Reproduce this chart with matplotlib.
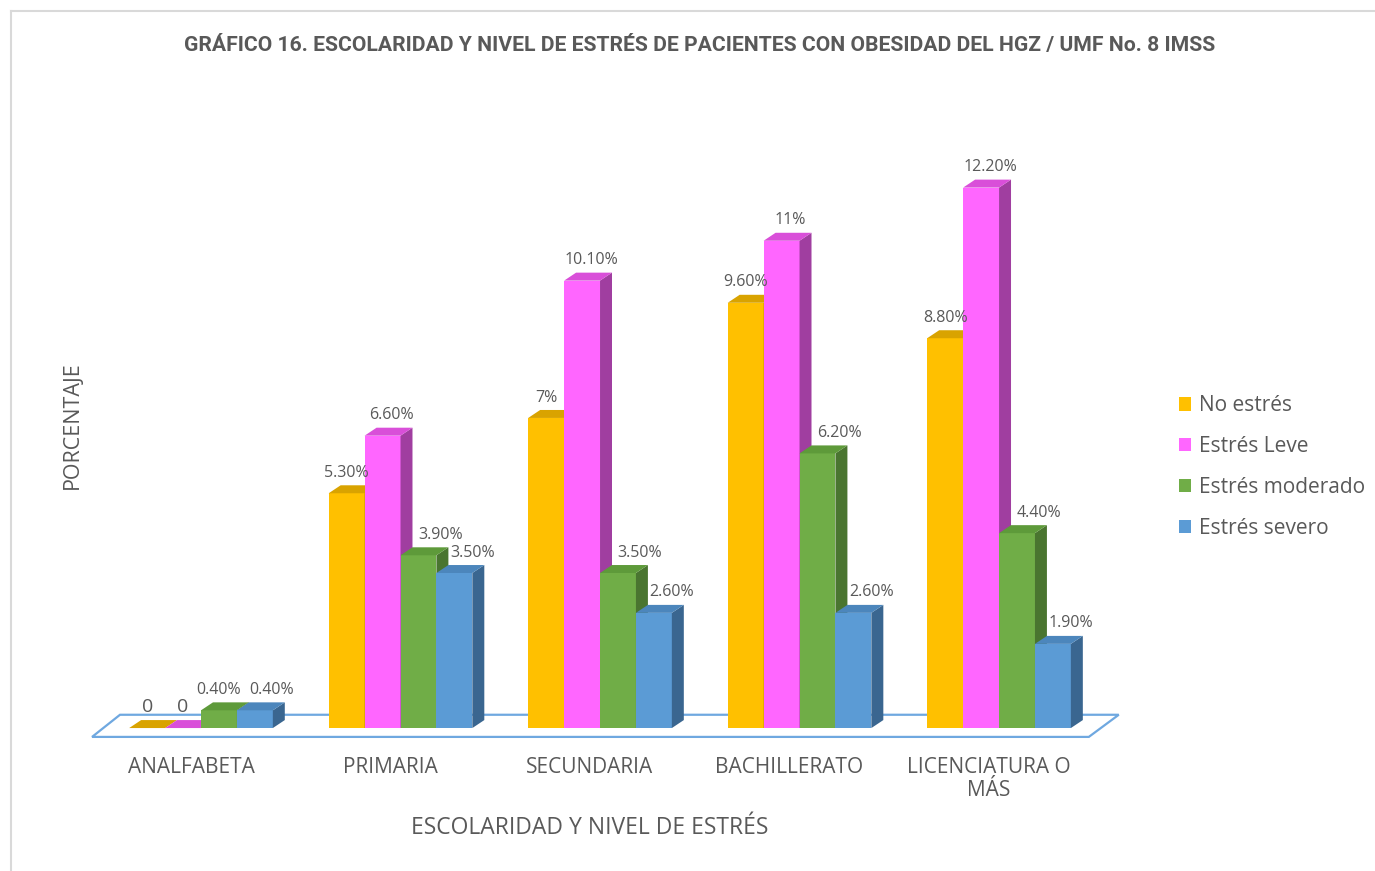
import matplotlib.pyplot as plt
from matplotlib.patches import Polygon, Rectangle
from matplotlib.lines import Line2D

# data
categories = ['ANALFABETA', 'PRIMARIA', 'SECUNDARIA', 'BACHILLERATO', 'LICENCIATURA O\nMÁS']
series_names = ['No estrés', 'Estrés Leve', 'Estrés moderado', 'Estrés severo']
no_estres = [0, 5.3, 7.0, 9.6, 8.8]
estres_leve = [0, 6.6, 10.1, 11.0, 12.2]
estres_moderado = [0.4, 3.9, 3.5, 6.2, 4.4]
estres_severo = [0.4, 3.5, 2.6, 2.6, 1.9]
labels = [
    ['0', '5.30%', '7%', '9.60%', '8.80%'],
    ['0', '6.60%', '10.10%', '11%', '12.20%'],
    ['0.40%', '3.90%', '3.50%', '6.20%', '4.40%'],
    ['0.40%', '3.50%', '2.60%', '2.60%', '1.90%'],
]
series = [no_estres, estres_leve, estres_moderado, estres_severo]

front = ['#FFC000', '#FF66FF', '#70AD47', '#5B9BD5']
side = ['#B98C00', '#A03EA0', '#4A7530', '#3A6690']
top = ['#D9A300', '#D94FD9', '#5E9A3A', '#4C86BC']
# label shift to the right so labels clear the side faces
lab_shift = [0.0, 0.045, 0.11, 0.09]
lab_shift_small = [0.0, 0.0, 0.0, 0.085]

W, H = 1375, 871
fig = plt.figure(figsize=(W / 100, H / 100), dpi=100)
ax = fig.add_axes([81.3 / W, 1 - 750.2 / H, 1057.4 / W, 620.2 / H])
ax.set_xlim(-0.6, 4.7)
ax.set_ylim(-0.5, 13.5)
ax.axis('off')

gray = '#595959'
font = 'Open Sans'
bw = 0.18
dx, dy = 0.06, 0.18  # fake 3d depth

# floor
floor = Polygon([(-0.546, -0.2), (-0.406, 0.3), (4.6, 0.3), (4.45, -0.2)],
                closed=True, facecolor='white', edgecolor='#6FA8E0', lw=1.6, zorder=1)
ax.add_patch(floor)

for s, vals in enumerate(series):
    for i, v in enumerate(vals):
        x0 = i - 2 * bw + s * bw
        x1 = x0 + bw
        z = 3 + s * 0.01
        if v > 0:
            ax.add_patch(Rectangle((x0, 0), bw, v, facecolor=front[s], edgecolor='none', zorder=z))
            ax.add_patch(Polygon([(x1, 0), (x1 + dx, dy), (x1 + dx, v + dy), (x1, v)],
                                 facecolor=side[s], edgecolor='none', zorder=z))
        ax.add_patch(Polygon([(x0, v), (x0 + dx, v + dy), (x1 + dx, v + dy), (x1, v)],
                             facecolor=top[s], edgecolor='none', zorder=z))
        shift = lab_shift_small[s] if v < 1 else lab_shift[s]
        fs = 14 if labels[s][i] == '0' else 11.5
        ax.text(x0 + bw / 2 + shift, v + dy + 0.1, labels[s][i], ha='center', va='bottom',
                fontsize=fs, color=gray, family=font, zorder=6)

for i, c in enumerate(categories):
    ax.text(i - 0.05, -0.65, c, ha='center', va='top', fontsize=15, color=gray,
            family=font, linespacing=1.15)

fig.text(590 / W, 1 - 828 / H, 'ESCOLARIDAD Y NIVEL DE ESTRÉS', ha='center', va='center',
         fontsize=16.5, color=gray, family=font)
fig.text(72 / W, 1 - 425 / H, 'PORCENTAJE', ha='center', va='center', rotation=90,
         fontsize=15.5, color=gray, family=font)
fig.text(700 / W, 1 - 45 / H,
         'GRÁFICO 16. ESCOLARIDAD Y NIVEL DE ESTRÉS DE PACIENTES CON OBESIDAD DEL HGZ / UMF No. 8 IMSS',
         ha='center', va='center', fontsize=15.2, fontweight='bold', color=gray,
         family=['Liberation Sans Narrow', 'Roboto', 'DejaVu Sans'])

# legend
handles = [Rectangle((0, 0), 1, 1, facecolor=c) for c in front]
leg = fig.legend(handles, series_names, loc='center left', bbox_to_anchor=(1160 / W, 1 - 467 / H),
                 frameon=False, handlelength=0.6, handleheight=0.6, labelspacing=0.95,
                 handletextpad=0.35, prop={'family': font, 'size': 15})
for t in leg.get_texts():
    t.set_color(gray)

# thin border at top/left
fig.add_artist(Line2D([11 / W, 11 / W], [0, 1 - 11 / H], color='#D9D9D9', lw=1.5))
fig.add_artist(Line2D([11 / W, 1], [1 - 11 / H, 1 - 11 / H], color='#D9D9D9', lw=1.5))

fig.savefig('out.png', dpi=100)
